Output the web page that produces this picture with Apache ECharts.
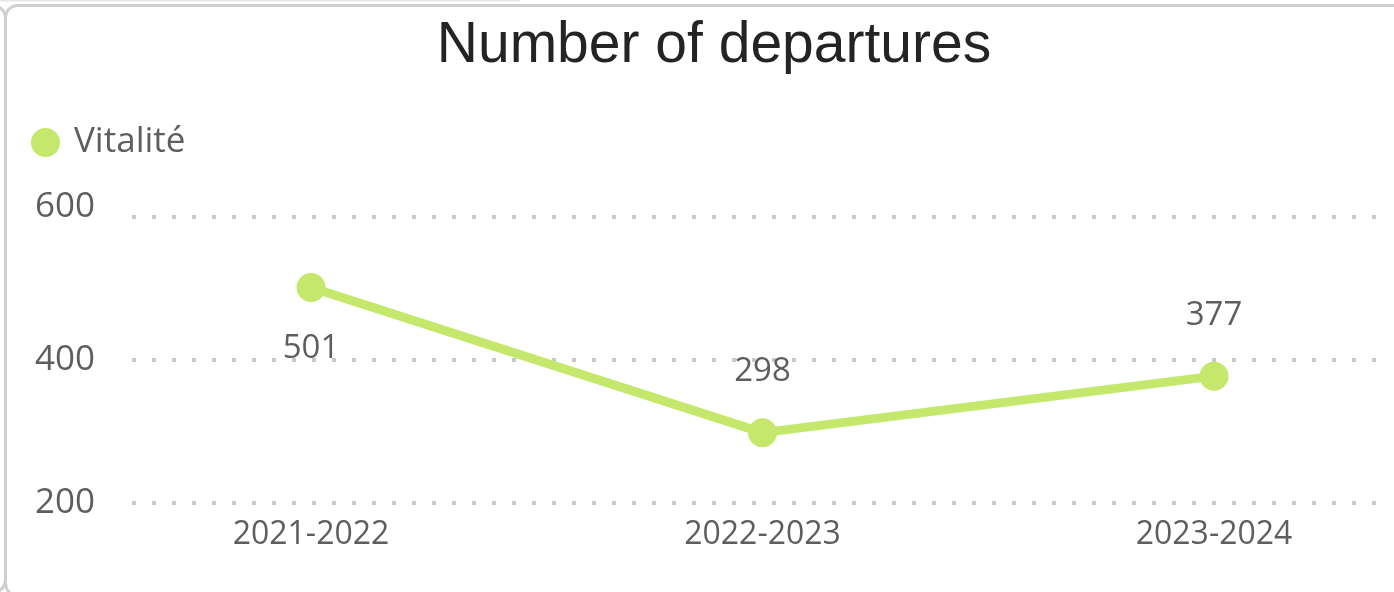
<!DOCTYPE html>
<html>
<head>
<meta charset="utf-8">
<title>Number of departures</title>
<script src="https://cdn.jsdelivr.net/npm/echarts@6/dist/echarts.min.js"></script>
<style>
  html, body { margin: 0; padding: 0; background: #ffffff; }
  #chart { width: 1394px; height: 592px; }
</style>
</head>
<body>
<div id="chart"></div>
<script>
// School years on the horizontal axis
const categories = ['2021-2022', '2022-2023', '2023-2024'];
// Departures per year for the Vitalité network
const departures = [501, 298, 377];
// Value axis ticks
const yTicks = [200, 400, 600];
const seriesName = 'Vitalité';

const textGrey = '#605E5C';
const lineGreen = '#C5E86C';
const uiFont = '"Open Sans", "Noto Sans", sans-serif';

// Which side of each point its value label sits on
const labelSides = ['bottom', 'top', 'top'];

const chart = echarts.init(document.getElementById('chart'), null, { renderer: 'canvas' });

const borderStyle = { fill: 'none', stroke: '#d0d0d0', lineWidth: 3 };

chart.setOption({
  animation: false,
  backgroundColor: '#ffffff',
  title: {
    text: 'Number of departures',
    left: 709,
    textAlign: 'center',
    top: 13,
    textStyle: {
      fontFamily: '"Liberation Sans", Arial, sans-serif',
      fontWeight: 'normal',
      fontSize: 57,
      color: '#252423'
    }
  },
  legend: {
    left: 31,
    top: 125,
    padding: 0,
    icon: 'circle',
    itemWidth: 29,
    itemHeight: 29,
    data: [seriesName],
    textStyle: {
      fontFamily: uiFont,
      fontSize: 35,
      color: textGrey,
      padding: [0, 0, 18, 9]
    }
  },
  grid: {
    left: 132,
    right: 12,
    top: 216.7,
    bottom: 592 - 502.7,
    containLabel: false
  },
  xAxis: {
    type: 'value',
    min: -0.3965,
    max: 2.372,
    axisLine: { show: false },
    axisTick: { show: false },
    splitLine: { show: false },
    axisLabel: {
      customValues: categories.map((c, i) => i),
      formatter: v => categories[Math.round(v)],
      fontFamily: uiFont,
      fontSize: 32,
      color: textGrey,
      margin: 16
    }
  },
  yAxis: {
    type: 'value',
    min: yTicks[0],
    max: yTicks[yTicks.length - 1],
    interval: yTicks[1] - yTicks[0],
    axisLine: { show: false },
    axisTick: { show: false },
    axisLabel: {
      fontFamily: uiFont,
      fontSize: 35,
      color: textGrey,
      margin: 37,
      formatter: v => (v === yTicks[yTicks.length - 1] ? '{top|' + v + '}' : String(v)),
      rich: {
        top: { fontFamily: uiFont, fontSize: 35, color: textGrey, padding: [0, 0, 20, 0] }
      }
    },
    splitLine: {
      lineStyle: { color: '#c8c8c8', width: 4, type: [4, 16] }
    }
  },
  series: [{
    name: seriesName,
    type: 'line',
    data: departures.map((v, i) => ({
      value: [i, v],
      label: { position: labelSides[i] }
    })),
    symbol: 'circle',
    symbolSize: 29,
    showSymbol: true,
    lineStyle: { color: lineGreen, width: 9 },
    itemStyle: { color: lineGreen },
    label: {
      show: true,
      distance: 30,
      formatter: p => p.value[1],
      fontFamily: uiFont,
      fontSize: 33,
      color: textGrey
    }
  }],
  graphic: [
    {
      // card outline
      type: 'rect',
      silent: true,
      z: -10,
      shape: { x: 5.5, y: 5.5, width: 1420, height: 590, r: 12 },
      style: borderStyle
    },
    {
      // top-right corner of the neighbouring card on the left
      type: 'bezierCurve',
      silent: true,
      z: -10,
      shape: { x1: 5.5, y1: 20, x2: -8, y2: 6, cpx1: 5.5, cpy1: 6 },
      style: borderStyle
    },
    {
      // bottom-right corner of the neighbouring card on the left
      type: 'bezierCurve',
      silent: true,
      z: -10,
      shape: { x1: 5.5, y1: 578, x2: -8, y2: 592, cpx1: 5.5, cpy1: 592 },
      style: borderStyle
    },
    {
      // lower edge of the panel above
      type: 'line',
      silent: true,
      z: -10,
      shape: { x1: 0, y1: 0.5, x2: 520, y2: 0.5 },
      style: { stroke: '#e6e6e6', lineWidth: 2 }
    }
  ]
});
</script>
</body>
</html>
